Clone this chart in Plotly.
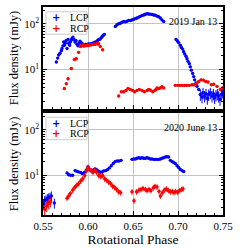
import plotly.graph_objects as go

# ---------------- data ----------------
# 2019 Jan 13 -- LCP
lcp19_phase = [0.5648, 0.5663, 0.5674, 0.5689, 0.5704, 0.5711, 0.5722, 0.5730, 0.5737, 0.5748,
               0.5756, 0.5767, 0.5778, 0.5785, 0.5796, 0.5804, 0.5815, 0.5822, 0.5833, 0.5844,
               0.5856, 0.5867, 0.5878, 0.5889, 0.5900, 0.5911, 0.5922, 0.5933, 0.5944, 0.5956,
               0.5970, 0.5981, 0.5993, 0.6007, 0.6019, 0.6033, 0.6044, 0.6056, 0.6067, 0.6081,
               0.6093, 0.6104, 0.6119, 0.6130, 0.6144, 0.6156, 0.6167, 0.6181,
               0.6304, 0.6322, 0.6341, 0.6359, 0.6378, 0.6396, 0.6414, 0.6433, 0.6452, 0.6470,
               0.6489, 0.6507, 0.6526, 0.6544, 0.6563, 0.6581, 0.6600, 0.6619, 0.6637, 0.6656,
               0.6674, 0.6693, 0.6711, 0.6730, 0.6748, 0.6767, 0.6785, 0.6804, 0.6822, 0.6841,
               0.6978, 0.6993, 0.7007, 0.7026, 0.7037, 0.7052, 0.7063, 0.7074, 0.7089, 0.7100,
               0.7111, 0.7126, 0.7137, 0.7148, 0.7163, 0.7174, 0.7185, 0.7200, 0.7211, 0.7230]
lcp19_flux = [14.7, 17.9, 21.0, 22.8, 26.0, 29.1, 33.2, 40.4, 34.3, 37.8,
              43.1, 29.1, 46.0, 37.8, 34.3, 40.4, 44.6, 48.3, 51.6, 46.0,
              40.4, 43.1, 36.0, 33.2, 37.8, 41.8, 39.1, 37.8, 34.3, 33.2,
              35.5, 34.3, 35.5, 36.6, 36.0, 37.2, 36.6, 37.8, 39.1, 40.4,
              39.1, 43.1, 46.0, 46.0, 49.1, 52.5, 56.0, 58.8,
              88.5, 96, 101, 104, 109, 113, 111, 115, 119, 119,
              123, 127, 131, 135, 141, 147, 154, 157, 163, 168,
              165, 164, 162, 157, 155, 149, 144, 135, 123, 113,
              46.0, 42.4, 39.1, 34.3, 30.6, 28.2, 24.8, 22.1, 19.7, 17.3,
              15.2, 13.5, 11.5, 9.75, 8.28, 7.04, 5.98, 5.08, 4.31, 3.66]
lcp19_tail_phase = [0.7248, 0.7267, 0.7278, 0.7296, 0.7311, 0.7326, 0.7341, 0.7359, 0.7378,
                    0.7393, 0.7407, 0.7422, 0.7437, 0.7452, 0.7467, 0.7481, 0.7496]
lcp19_tail_flux = [2.87, 2.52, 3.11, 2.64, 2.96, 2.36, 2.87, 3.11, 2.64,
                   2.96, 2.44, 2.77, 2.96, 2.64, 2.25, 2.87, 3.27]

# 2019 Jan 13 -- RCP
rcp19_phase = [0.5737, 0.5759, 0.5778, 0.5815, 0.5848, 0.5870, 0.5896, 0.5915, 0.5924, 0.5933,
               0.5952, 0.5961, 0.5970, 0.5989, 0.5998, 0.6007, 0.6026, 0.6035, 0.6044, 0.6063,
               0.6072, 0.6081, 0.6100, 0.6110, 0.6119, 0.6137, 0.6163,
               0.6341, 0.6370, 0.6396, 0.6422, 0.6444, 0.6470, 0.6496, 0.6519, 0.6544, 0.6570,
               0.6600, 0.6626, 0.6656, 0.6674, 0.6693, 0.6719, 0.6741, 0.6756, 0.6767, 0.6785,
               0.6804, 0.6822, 0.6841,
               0.6970, 0.6996, 0.7022, 0.7048, 0.7074, 0.7100, 0.7126, 0.7156, 0.7181, 0.7207,
               0.7230, 0.7256, 0.7281, 0.7307, 0.7333, 0.7370, 0.7396, 0.7433, 0.7470, 0.7496]
rcp19_flux = [3.85, 4.9, 6.3, 10.6, 16.7, 17.3, 23.9, 32.0, 33.0, 34.3,
              33.2, 34.0, 33.2, 34.3, 33.5, 34.3, 34.9, 35.0, 35.5, 36.2,
              35.5, 36.2, 37.9, 36.5, 37.0, 32.0, 27.3,
              2.64, 3.27, 3.27, 3.49, 3.85, 3.66, 3.49, 3.27, 3.49, 3.66,
              3.49, 3.27, 3.49, 3.66, 3.55, 3.27, 3.49, 3.66, 3.98, 3.85,
              3.98, 4.25, 3.98,
              4.53, 4.53, 4.53, 4.53, 4.53, 4.53, 4.53, 4.68, 4.68, 5.0,
              5.5, 5.98, 5.9, 5.5, 5.35, 4.68, 4.8, 4.3, 3.66, 3.98]

# 2020 June 13 -- LCP
lcp20_left_phase = [0.5504, 0.5519, 0.5533, 0.5548, 0.5563, 0.5578, 0.5593, 0.5626]
lcp20_left_flux = [2.42, 2.84, 2.94, 3.14, 3.24, 3.35, 3.57, 2.5]
lcp20_phase = [0.5767, 0.5785, 0.5807, 0.5830, 0.5856, 0.5874, 0.5896, 0.5919, 0.5937, 0.5959,
               0.5981, 0.6000, 0.6022, 0.6041, 0.6063, 0.6081, 0.6100, 0.6119, 0.6137, 0.6156,
               0.6174, 0.6196, 0.6215, 0.6237, 0.6259, 0.6281, 0.6300, 0.6322, 0.6344, 0.6367,
               0.6489, 0.6507, 0.6526, 0.6544, 0.6563, 0.6581, 0.6600, 0.6619, 0.6637, 0.6656,
               0.6674, 0.6693, 0.6711, 0.6730, 0.6748, 0.6767, 0.6785, 0.6804, 0.6822, 0.6841,
               0.6859, 0.6878, 0.6896, 0.6915, 0.6933, 0.6952, 0.6970, 0.6989, 0.7007, 0.7026,
               0.7044, 0.7063]
lcp20_flux = [11.4, 10.4, 10.1, 10.1, 12.8, 12.4, 12.0, 11.6, 11.0, 11.6,
              13.2, 15.5, 13.2, 12.4, 13.4, 13.9, 13.2, 12.4, 11.8, 12.0,
              12.6, 12.8, 13.4, 14.6, 16.3, 18.3, 20.1, 20.8, 20.8, 21.5,
              22.6, 23.0, 23.0, 23.8, 24.5, 23.8, 24.5, 23.8, 23.8, 24.5,
              23.8, 23.0, 23.0, 22.6, 22.6, 22.6, 22.6, 23.0, 23.8, 24.5,
              25.4, 25.8, 25.4, 21.5, 20.2, 19.2, 18.3, 16.3, 15.0, 13.6,
              12.8, 12.2]

# 2020 June 13 -- RCP
rcp20_left_phase = [0.5519, 0.5541, 0.5563, 0.5585]
rcp20_left_flux = [1.8, 2.12, 2.42, 2.67]
rcp20_phase = [0.5767, 0.5785, 0.5804, 0.5830, 0.5852, 0.5874, 0.5896, 0.5919, 0.5941, 0.5963,
               0.5985, 0.6000, 0.6015, 0.6037, 0.6056, 0.6074, 0.6096, 0.6119, 0.6141, 0.6163,
               0.6185, 0.6207, 0.6230, 0.6252, 0.6274, 0.6296, 0.6319, 0.6341, 0.6363,
               0.6489, 0.6511, 0.6540, 0.6567, 0.6589, 0.6611, 0.6637, 0.6656, 0.6678, 0.6700,
               0.6726, 0.6744, 0.6767, 0.6789, 0.6804, 0.6826, 0.6848, 0.6870, 0.6893, 0.6915,
               0.6937, 0.6956, 0.6974, 0.6996, 0.7019, 0.7041, 0.7056]
rcp20_flux = [3.19, 3.57, 4.07, 4.8, 5.47, 6.13, 6.65, 7.57, 8.49, 10.0,
              12.8, 15.0, 13.9, 12.8, 11.8, 13.2, 11.8, 10.0, 9.5, 10.0,
              8.49, 7.83, 7.21, 6.65, 5.83, 5.47, 4.96, 4.42, 4.21,
              4.4, 2.8, 4.4, 4.8, 4.96, 5.2, 4.96, 4.7, 4.96, 4.7,
              5.4, 5.8, 5.6, 4.5, 3.57, 4.2, 4.8, 5.1, 4.7, 4.4,
              4.5, 4.25, 4.5, 4.3, 4.7, 4.96, 5.1]

x_tickvals = [0.55, 0.60, 0.65, 0.70, 0.75]
x_ticktext = ["0.55", "0.60", "0.65", "0.70", "0.75"]
y_tickvals = [10, 100]
y_ticktext = ["10<sup>1</sup>", "10<sup>2</sup>"]
y_minor_vals = [2, 3, 4, 5, 6, 7, 8, 9, 20, 30, 40, 50, 60, 70, 80, 90, 200]
epochs = ["2019 Jan 13", "2020 June 13"]
series_names = ["LCP", "RCP"]

# ---------------- styling ----------------
FONT = "Liberation Serif, Times New Roman, serif"
BLUE = "#0000ff"
RED = "#ff0000"
COLORS = [BLUE, RED]

fig = go.Figure()


def add_series(x, y, color, pct, xa, ya):
    fig.add_trace(go.Scatter(
        x=x, y=y, mode="markers", xaxis=xa, yaxis=ya, showlegend=False,
        marker=dict(color=color, size=3.4, line=dict(width=0)),
        error_y=dict(type="percent", value=pct, color=color, thickness=1, width=0),
        error_x=dict(type="constant", value=0.0008, color=color, thickness=1, width=0),
        hoverinfo="skip"))


# top panel
add_series(lcp19_phase, lcp19_flux, BLUE, 6, "x", "y")
add_series(lcp19_tail_phase, lcp19_tail_flux, BLUE, 28, "x", "y")
add_series(rcp19_phase, rcp19_flux, RED, 7, "x", "y")
# bottom panel
add_series(lcp20_left_phase, lcp20_left_flux, BLUE, 25, "x2", "y2")
add_series(lcp20_phase, lcp20_flux, BLUE, 5, "x2", "y2")
add_series(rcp20_left_phase, rcp20_left_flux, RED, 25, "x2", "y2")
add_series(rcp20_phase, rcp20_flux, RED, 14, "x2", "y2")

H_TOP = [0.509, 1.0]
H_BOT = [0.0, 0.491]

common_x = dict(range=[0.55, 0.75], tickmode="array", tickvals=x_tickvals, ticktext=x_ticktext,
                ticks="inside", ticklen=4, tickwidth=1, tickcolor="black",
                minor=dict(dtick=0.01, tick0=0.55, ticks="inside", ticklen=2, tickwidth=1,
                           tickcolor="black", showgrid=False),
                showline=True, linecolor="black", linewidth=1.5, mirror=True,
                showgrid=True, gridcolor="#c4c4c4", gridwidth=0.8, zeroline=False,
                tickfont=dict(family=FONT, size=11, color="black"))
common_y = dict(type="log", range=[0.135, 2.372], tickmode="array", tickvals=y_tickvals,
                ticktext=y_ticktext, ticks="inside", ticklen=4.5, tickwidth=1, tickcolor="black",
                minor=dict(tickmode="array", tickvals=y_minor_vals, ticks="inside", ticklen=2.3,
                           tickwidth=1, tickcolor="black", showgrid=False),
                showline=True, linecolor="black", linewidth=1.5, mirror="ticks",
                showgrid=True, gridcolor="#c4c4c4", gridwidth=0.8, zeroline=False,
                tickfont=dict(family=FONT, size=11, color="black"),
                title=dict(text="Flux density (mJy)", font=dict(family=FONT, size=12.5, color="black"),
                           standoff=3))

# compact legends (box + symbol + label) in paper coordinates, one per panel
legend_boxes = [(0.017, 0.244, 0.869, 0.977), (0.017, 0.244, 0.362, 0.470)]
legend_rows = [(0.949, 0.897), (0.442, 0.390)]
shapes = []
annotations = []
for (x0, x1, y0, y1), rows in zip(legend_boxes, legend_rows):
    shapes.append(dict(type="rect", xref="paper", yref="paper", x0=x0, x1=x1, y0=y0, y1=y1,
                       line=dict(color="#cccccc", width=1), fillcolor="rgba(255,255,255,0.85)",
                       layer="above"))
    for name, color, yr in zip(series_names, COLORS, rows):
        annotations.append(dict(text="<b>+</b>", xref="paper", yref="paper", x=0.072, y=yr,
                                xanchor="center", yanchor="middle", showarrow=False,
                                borderpad=0,
                                font=dict(family="DejaVu Sans", size=10, color=color)))
        annotations.append(dict(text=name, xref="paper", yref="paper", x=0.145, y=yr,
                                xanchor="left", yanchor="middle", showarrow=False,
                                borderpad=0,
                                font=dict(family=FONT, size=10, color="black")))

for txt, yy in zip(epochs, [0.93, 0.422]):
    annotations.append(dict(text=txt, xref="paper", yref="paper", x=0.975, y=yy,
                            xanchor="right", yanchor="middle", showarrow=False,
                            font=dict(family=FONT, size=10, color="black")))

fig.update_layout(
    width=240, height=248,
    margin=dict(l=43, r=17, t=5, b=29),
    paper_bgcolor="white", plot_bgcolor="white",
    font=dict(family=FONT, color="black"),
    showlegend=False,
    xaxis=dict(common_x, domain=[0, 1], anchor="y", matches="x2", showticklabels=False),
    yaxis=dict(common_y, domain=H_TOP, anchor="x"),
    xaxis2=dict(common_x, domain=[0, 1], anchor="y2",
                title=dict(text="Rotational Phase", font=dict(family=FONT, size=13.5, color="black"),
                           standoff=2)),
    yaxis2=dict(common_y, domain=H_BOT, anchor="x2"),
    shapes=shapes,
    annotations=annotations,
)

fig.write_html("out.html", config={"displayModeBar": False},
               post_script="document.body.style.margin='0px';")
